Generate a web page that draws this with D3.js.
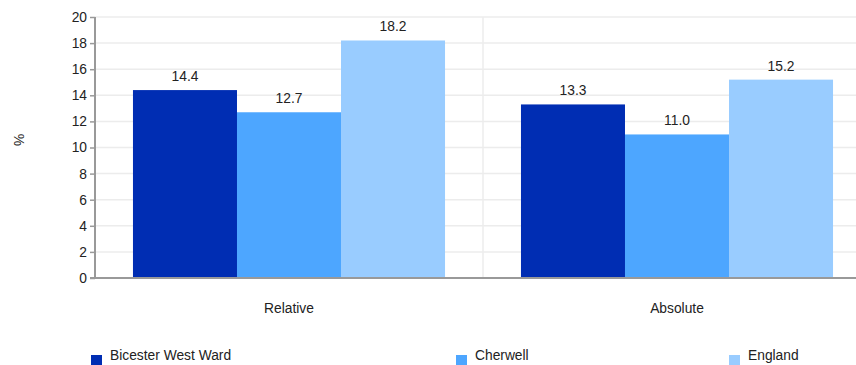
<!DOCTYPE html>
<html><head><meta charset="utf-8">
<script src="https://cdn.jsdelivr.net/npm/d3@7"></script>
<style>body{margin:0;background:#fff;overflow:hidden}svg{display:block;font-family:"Liberation Sans",Arial,sans-serif}</style>
</head><body>
<script>
const categories = ["Relative", "Absolute"];
const seriesNames = ["Bicester West Ward", "Cherwell", "England"];
const bicester = [14.4, 13.3];
const cherwell = [12.7, 11.0];
const england = [18.2, 15.2];
const yTicks = [0, 2, 4, 6, 8, 10, 12, 14, 16, 18, 20];
const colors = ["#002db3", "#4da6ff", "#99ccff"];
const seriesValues = [bicester, cherwell, england];

const W = 856, H = 365;
const FS = 13.8;
const svg = d3.select("body").append("svg").attr("width", W).attr("height", H);
const pL = 95, pR = 871, pT = 17, pB = 278;

const x0 = d3.scaleBand().domain(categories).range([pL, pR]);
const x1 = d3.scaleBand().domain(seriesNames).range([0, x0.bandwidth()]).paddingOuter(0.365).paddingInner(0);
const y = d3.scaleLinear().domain([0, 20]).range([pB, pT]);

// horizontal gridlines
svg.append("g").selectAll("line").data(yTicks.slice(1)).join("line")
  .attr("x1", pL).attr("x2", pR).attr("y1", d => y(d)).attr("y2", d => y(d))
  .attr("stroke", "#ececec").attr("stroke-width", 1.5);
// vertical gridlines at band boundaries
svg.append("g").selectAll("line").data(categories.slice(1)).join("line")
  .attr("x1", d => x0(d)).attr("x2", d => x0(d)).attr("y1", pT).attr("y2", pB)
  .attr("stroke", "#ececec").attr("stroke-width", 1.5);

// bars
const g = svg.append("g");
categories.forEach((c, ci) => {
  seriesNames.forEach((s, si) => {
    const v = seriesValues[si][ci];
    g.append("rect").attr("x", x0(c) + x1(s)).attr("width", x1.bandwidth())
      .attr("y", y(v)).attr("height", y(0) - y(v)).attr("fill", colors[si]);
    g.append("text").attr("x", x0(c) + x1(s) + x1.bandwidth() / 2).attr("y", y(v) - 9)
      .attr("text-anchor", "middle").attr("font-size", FS).attr("fill", "#222")
      .text(v.toFixed(1));
  });
});

// y axis
const yAxis = svg.append("g").attr("transform", `translate(${pL},0)`)
  .call(d3.axisLeft(y).tickValues(yTicks).tickSize(5).tickPadding(3));
yAxis.select(".domain").attr("stroke", "#999").attr("stroke-width", 2).attr("d", `M0,${pT}V${pB}`);
yAxis.selectAll(".tick line").attr("stroke", "#999").attr("stroke-width", 1.5);
yAxis.selectAll(".tick text").attr("font-size", FS).attr("fill", "#222").attr("font-family", '"Liberation Sans",Arial,sans-serif');

// x axis baseline
svg.append("line").attr("x1", pL - 5).attr("x2", pR).attr("y1", pB).attr("y2", pB)
  .attr("stroke", "#999").attr("stroke-width", 2);

// category labels
svg.append("g").selectAll("text").data(categories).join("text")
  .attr("x", d => x0(d) + x0.bandwidth() / 2).attr("y", 313)
  .attr("text-anchor", "middle").attr("font-size", FS).attr("fill", "#222").text(d => d);

// y label
svg.append("text").attr("transform", "translate(14,140) rotate(90)")
  .attr("text-anchor", "middle").attr("font-size", FS).attr("fill", "#222").text("%");

// legend
const legendX = [91, 456, 729];
const leg = svg.append("g").selectAll("g").data(seriesNames).join("g")
  .attr("transform", (d, i) => `translate(${legendX[i]},0)`);
leg.append("rect").attr("x", 0).attr("y", 355).attr("width", 11).attr("height", 10).attr("fill", (d, i) => colors[i]);
leg.append("text").attr("x", 19).attr("y", 360).attr("font-size", FS).attr("fill", "#222").text(d => d);
</script>
</body></html>
